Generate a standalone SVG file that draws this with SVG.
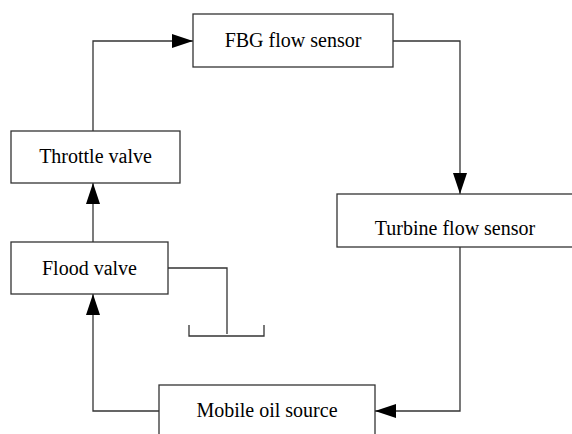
<svg xmlns="http://www.w3.org/2000/svg" width="572" height="434" viewBox="0 0 572 434">
<defs>
<marker id="arr" markerUnits="userSpaceOnUse" markerWidth="21" markerHeight="14" refX="21" refY="7" orient="auto">
<path d="M0,0 L21,7 L0,14 z" fill="#000"/>
</marker>
<style>
.box{fill:#fff;stroke:#333;stroke-width:1.3}
.lbl{font-family:"Liberation Serif","Times New Roman",serif;font-size:20px;fill:#000;text-anchor:middle}
.ln{fill:none;stroke:#333;stroke-width:1.3}
</style>
</defs>
<rect width="572" height="434" fill="#fff"/>
<g id="connectors">
<path class="ln" d="M93,131 L93,41 L193,41" marker-end="url(#arr)"/>
<path class="ln" d="M93,242 L93,183" marker-end="url(#arr)"/>
<path class="ln" d="M159,411 L93,411 L93,294" marker-end="url(#arr)"/>
<path class="ln" d="M393,41 L460,41 L460,194" marker-end="url(#arr)"/>
<path class="ln" d="M460,247 L460,411 L375,411" marker-end="url(#arr)"/>
<path class="ln" d="M168,268 L227,268 L227,334"/>
</g>
<g id="tank">
<path class="ln" d="M189,325 L189,336 L264,336 L264,325"/>
</g>
<g id="fbg">
<rect class="box" x="193" y="14" width="200" height="53"/>
<text class="lbl" x="293" y="47">FBG flow sensor</text>
</g>
<g id="throttle">
<rect class="box" x="11" y="131" width="169" height="52"/>
<text class="lbl" x="95.5" y="163">Throttle valve</text>
</g>
<g id="flood">
<rect class="box" x="11" y="242" width="157" height="52"/>
<text class="lbl" x="89.5" y="275">Flood valve</text>
</g>
<g id="turbine">
<rect class="box" x="337" y="194" width="238" height="53"/>
<text class="lbl" x="455" y="235">Turbine flow sensor</text>
</g>
<g id="mobile">
<rect class="box" x="159" y="385" width="216" height="60"/>
<text class="lbl" x="267" y="417">Mobile oil source</text>
</g>
</svg>
